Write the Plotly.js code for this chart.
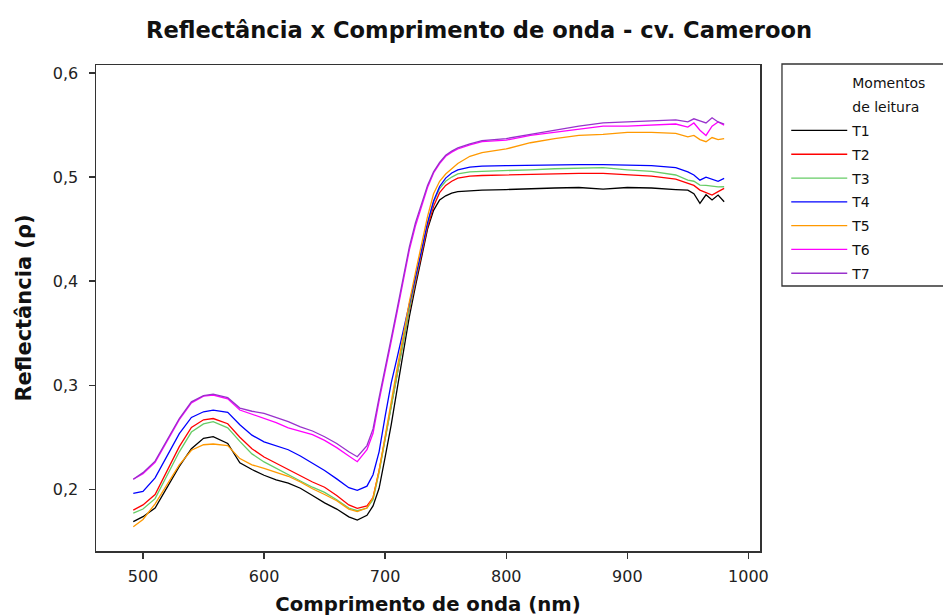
<!DOCTYPE html>
<html>
<head>
<meta charset="utf-8">
<script src="https://cdn.plot.ly/plotly-3.0.1.min.js"></script>
<style>html,body{margin:0;padding:0;background:#fff;}#chart{width:943px;height:616px;}</style>
</head>
<body>
<div id="chart"></div>
<script>
// Wavelengths (nm)
const wavelength = [492,500,510,520,530,540,550,558,570,580,590,600,610,620,630,640,650,660,670,677,
  685,690,695,700,705,710,715,720,725,730,735,740,745,750,755,760,770,780,800,820,840,860,880,900,920,940,950,955,960,965,970,975,980];

const seriesNames = ["T1","T2","T3","T4","T5","T6","T7"];

const T1 = [0.169,0.1737,0.182,0.202,0.222,0.239,0.249,0.2505,0.244,0.2255,0.219,0.2135,0.209,0.206,0.201,0.194,0.187,0.181,0.1735,0.1705,
  0.175,0.184,0.201,0.231,0.262,0.297,0.331,0.3658,0.395,0.422,0.450,0.468,0.478,0.482,0.4845,0.486,0.487,0.4875,0.488,0.489,0.4895,0.490,0.4885,0.490,0.4895,0.488,0.4875,0.484,0.4747,0.483,0.478,0.4827,0.4763];
const T2 = [0.180,0.185,0.195,0.218,0.241,0.2595,0.2668,0.268,0.263,0.250,0.239,0.231,0.225,0.219,0.213,0.207,0.202,0.194,0.185,0.1817,
  0.184,0.192,0.218,0.250,0.281,0.312,0.342,0.372,0.399,0.426,0.452,0.472,0.485,0.492,0.496,0.499,0.501,0.5015,0.502,0.503,0.503,0.5035,0.5035,0.502,0.501,0.498,0.494,0.492,0.4875,0.485,0.4827,0.486,0.4891];
const T3 = [0.177,0.181,0.191,0.213,0.236,0.255,0.2628,0.265,0.259,0.246,0.234,0.2263,0.220,0.2145,0.208,0.202,0.197,0.190,0.182,0.1794,
  0.182,0.190,0.216,0.248,0.280,0.311,0.342,0.373,0.401,0.429,0.455,0.476,0.489,0.496,0.500,0.503,0.505,0.5055,0.506,0.507,0.508,0.5085,0.509,0.507,0.5055,0.502,0.4971,0.496,0.4923,0.492,0.491,0.4905,0.4907];
const T4 = [0.196,0.198,0.211,0.232,0.2535,0.269,0.2745,0.276,0.274,0.262,0.252,0.2455,0.242,0.238,0.232,0.225,0.218,0.210,0.2015,0.199,
  0.203,0.214,0.236,0.270,0.302,0.327,0.352,0.379,0.403,0.429,0.456,0.477,0.491,0.499,0.504,0.507,0.5095,0.5105,0.511,0.5115,0.512,0.512,0.512,0.5115,0.511,0.509,0.505,0.502,0.497,0.500,0.498,0.496,0.4987];
const T5 = [0.164,0.171,0.186,0.205,0.2235,0.2375,0.2428,0.2435,0.242,0.2295,0.2235,0.220,0.216,0.2125,0.207,0.2005,0.195,0.189,0.181,0.1785,
  0.182,0.192,0.218,0.252,0.285,0.317,0.348,0.380,0.408,0.436,0.462,0.484,0.496,0.503,0.508,0.513,0.520,0.5235,0.527,0.533,0.537,0.540,0.541,0.543,0.543,0.542,0.5387,0.540,0.536,0.534,0.538,0.536,0.537];
const T6 = [0.2096,0.215,0.226,0.246,0.267,0.283,0.2895,0.2906,0.287,0.2762,0.272,0.2682,0.264,0.259,0.256,0.2525,0.247,0.240,0.232,0.2265,
  0.238,0.2538,0.285,0.315,0.342,0.371,0.400,0.430,0.453,0.472,0.490,0.504,0.513,0.520,0.524,0.527,0.531,0.534,0.5355,0.540,0.543,0.546,0.549,0.549,0.550,0.551,0.548,0.552,0.545,0.540,0.549,0.553,0.550];
const T7 = [0.2096,0.216,0.227,0.247,0.268,0.284,0.290,0.2915,0.288,0.278,0.275,0.273,0.269,0.265,0.260,0.256,0.2505,0.244,0.236,0.2313,
  0.242,0.258,0.288,0.318,0.345,0.374,0.403,0.433,0.456,0.475,0.492,0.505,0.514,0.521,0.525,0.528,0.532,0.535,0.537,0.541,0.545,0.549,0.552,0.553,0.554,0.555,0.553,0.556,0.554,0.552,0.557,0.553,0.551];

const seriesValues = [T1,T2,T3,T4,T5,T6,T7];
const seriesColors = ["#000000","#ff0000","#66cc66","#0000ff","#ff9900","#ff00ff","#9932cc"];

const legendTitleLines = ["Momentos","de leitura"];
const xTicks = [500,600,700,800,900,1000];
const yTicks = [0.2,0.3,0.4,0.5,0.6];

const traces = [];
legendTitleLines.forEach((t,i) => {
  traces.push({x:[null], y:[null], type:'scatter', mode:'lines', name:t, legendgroup:'h'+i,
    line:{color:'rgba(0,0,0,0)', width:0}, hoverinfo:'skip'});
});
seriesNames.forEach((n,i) => {
  traces.push({x:wavelength, y:seriesValues[i], type:'scatter', mode:'lines', name:n, legendgroup:'g'+i,
    line:{color:seriesColors[i], width:1.3}});
});

const layout = {
  width:943, height:616,
  paper_bgcolor:'#ffffff', plot_bgcolor:'#ffffff',
  separators:',.',
  margin:{l:96, r:182, t:65, b:65, pad:0},
  font:{family:'DejaVu Sans, sans-serif', color:'#222'},
  title:{text:'<b>Reflectância x Comprimento de onda - cv. Cameroon</b>', x:0.508, xref:'container', xanchor:'center',
    y:0.951, yref:'container', yanchor:'middle', font:{family:'DejaVu Sans', size:22.6, color:'#111'}},
  xaxis:{range:[461.2,1009.6], tickvals:xTicks, ticks:'outside', ticklen:6, tickwidth:1.3, tickcolor:'#333',
    showline:true, mirror:true, linecolor:'#333', linewidth:1.5, showgrid:false, zeroline:false,
    tickfont:{size:16, color:'#222'}, ticklabelstandoff:4,
    title:{text:'<b>Comprimento de onda (nm)</b>', font:{size:19.7, color:'#111'}, standoff:14}},
  yaxis:{range:[0.1407,0.6077], tickvals:yTicks, tickformat:'.1f', ticks:'outside', ticklen:6, tickwidth:1.3, tickcolor:'#333',
    showline:true, mirror:true, linecolor:'#333', linewidth:1.5, showgrid:false, zeroline:false,
    tickfont:{size:16, color:'#222'}, ticklabelstandoff:7,
    title:{text:'<b>Reflectância (ρ)</b>', font:{size:21, color:'#111'}, standoff:15}},
  showlegend:true,
  legend:{x:1.036, xanchor:'left', y:0.998, yanchor:'top', bordercolor:'rgba(0,0,0,0)', borderwidth:1.3, bgcolor:'rgba(0,0,0,0)',
    font:{size:14, color:'#111'}, itemwidth:56, tracegroupgap:2.6},
  shapes:[{type:'rect', xref:'paper', yref:'paper', x0:1.0331, x1:1.35, y0:0.5453, y1:1.0021,
    line:{color:'#333', width:1.3}, fillcolor:'rgba(0,0,0,0)', layer:'above'}]
};

Plotly.newPlot('chart', traces, layout, {displayModeBar:false, staticPlot:true});
</script>
</body>
</html>
